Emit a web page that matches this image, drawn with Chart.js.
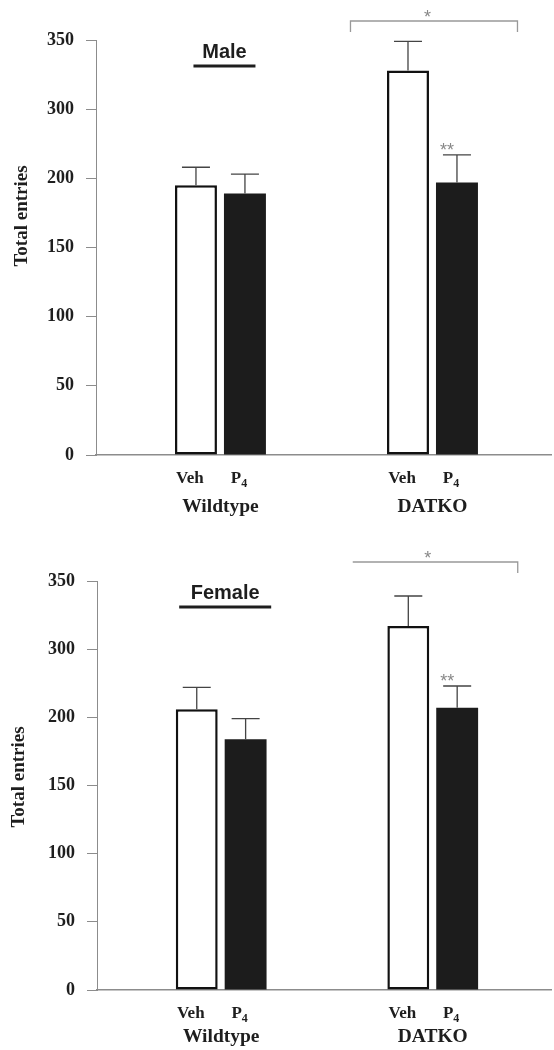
<!DOCTYPE html>
<html>
<head>
<meta charset="utf-8">
<script src="https://cdn.jsdelivr.net/npm/chart.js@4.4.1/dist/chart.umd.min.js"></script>
<style>
  html, body { margin: 0; padding: 0; background: #fff; }
  .panel { position: absolute; left: 0; width: 554px; height: 525px; }
</style>
</head>
<body>
<div class="panel" style="top:0"><canvas id="chart-male" width="554" height="525"></canvas></div>
<div class="panel" style="top:525px"><canvas id="chart-female" width="554" height="525"></canvas></div>
<script>
const groups = ['Wildtype', 'DATKO'];
const treatments = ['Veh', 'P4'];
// ticks are evenly spaced in the original, but it has no "250" label
const yTickLabels = ['0', '50', '100', '150', '200', '300', '350'];

const maleVeh = [195, 278];
const maleP4 = [189, 197];
const maleVehErr = [13, 21];
const maleP4Err = [14, 20];

const femaleVeh = [206, 267];
const femaleP4 = [184, 207];
const femaleVehErr = [16, 22];
const femaleP4Err = [15, 16];

const serif = '"Liberation Serif", "Times New Roman", serif';
const sans = '"Liberation Sans", Arial, sans-serif';
const axisGrey = '#8c8c8c';
const ink = '#1e1e1e';

function drawLabel(ctx, text, cx, baseline, size) {
  // "P4" is written with a subscript 4
  const m = text.match(/^(.*?)(\d+)$/);
  ctx.textAlign = 'left';
  ctx.textBaseline = 'alphabetic';
  if (!m) {
    ctx.font = 'bold ' + size + 'px ' + serif;
    const w = ctx.measureText(text).width;
    ctx.fillText(text, cx - w / 2, baseline);
    return;
  }
  ctx.font = 'bold ' + size + 'px ' + serif;
  const w1 = ctx.measureText(m[1]).width;
  ctx.font = 'bold ' + Math.round(size * 0.72) + 'px ' + serif;
  const w2 = ctx.measureText(m[2]).width;
  const left = cx - (w1 + w2) / 2;
  ctx.font = 'bold ' + size + 'px ' + serif;
  ctx.fillText(m[1], left, baseline);
  ctx.font = 'bold ' + Math.round(size * 0.72) + 'px ' + serif;
  ctx.fillText(m[2], left + w1, baseline + 4);
}

const annotations = {
  id: 'annotations',
  afterDatasetsDraw(chart, args, o) {
    const ctx = chart.ctx;
    const xs = chart.scales.x, ys = chart.scales.y;
    const area = chart.chartArea;
    ctx.save();

    // error bars (upper half only)
    chart.data.datasets.forEach((ds, d) => {
      chart.getDatasetMeta(d).data.forEach((bar, i) => {
        const yTop = ys.getPixelForValue(ds.data[i].y + ds.errors[i]);
        ctx.strokeStyle = '#444';
        ctx.lineWidth = 1.3;
        ctx.beginPath();
        ctx.moveTo(bar.x, bar.y);
        ctx.lineTo(bar.x, yTop);
        ctx.moveTo(bar.x - 14, yTop);
        ctx.lineTo(bar.x + 14, yTop);
        ctx.stroke();
      });
    });

    // labels under the bars and the groups
    ctx.fillStyle = ink;
    chart.data.datasets.forEach((ds, d) => {
      chart.getDatasetMeta(d).data.forEach(bar => {
        drawLabel(ctx, treatments[d], bar.x - 6, area.bottom + 28, 17);
      });
    });
    groups.forEach((g, i) => {
      drawLabel(ctx, g, xs.getPixelForValue(i + 1), area.bottom + o.groupDy, 19.5);
    });

    // y title
    ctx.save();
    ctx.translate(o.titleX, o.titleY);
    ctx.rotate(-Math.PI / 2);
    ctx.font = 'bold 19px ' + serif;
    ctx.textAlign = 'center';
    ctx.textBaseline = 'middle';
    ctx.fillText('Total entries', 0, 0);
    ctx.restore();

    // sex label with underline
    const gx = xs.getPixelForValue(1) + 4;
    ctx.font = 'bold 20px ' + sans;
    ctx.textAlign = 'center';
    ctx.textBaseline = 'alphabetic';
    ctx.fillText(o.sex, gx, o.sexY);
    ctx.strokeStyle = ink;
    ctx.lineWidth = 3;
    ctx.beginPath();
    ctx.moveTo(gx - o.lineW / 2, o.sexY + 8);
    ctx.lineTo(gx + o.lineW / 2, o.sexY + 8);
    ctx.stroke();

    // significance bracket over DATKO
    const dx = xs.getPixelForValue(2);
    ctx.strokeStyle = '#999';
    ctx.lineWidth = 1.3;
    ctx.beginPath();
    if (o.leftDrop) {
      ctx.moveTo(dx - 82, o.bracketY + 11);
      ctx.lineTo(dx - 82, o.bracketY);
    } else {
      ctx.moveTo(dx - 80, o.bracketY);
    }
    ctx.lineTo(dx + 85, o.bracketY);
    ctx.lineTo(dx + 85, o.bracketY + 11);
    ctx.stroke();
    ctx.fillStyle = '#888';
    ctx.font = '18px ' + sans;
    ctx.fillText('*', dx - 5, o.bracketY + 2);

    // ** over DATKO P4
    const p4 = chart.getDatasetMeta(1).data[1];
    const p4Top = ys.getPixelForValue(chart.data.datasets[1].data[1].y + chart.data.datasets[1].errors[1]);
    ctx.fillText('**', p4.x - 10, p4Top + 1);

    ctx.restore();
  }
};

function makePanel(id, cfg) {
  const ctx = document.getElementById(id).getContext('2d');
  return new Chart(ctx, {
    type: 'bar',
    data: {
      datasets: [
        {
          label: treatments[0],
          data: groups.map((g, i) => ({ x: i + 1, y: cfg.veh[i] })),
          errors: cfg.vehErr,
          backgroundColor: '#ffffff',
          borderColor: '#111',
          borderWidth: 2.5,
          borderSkipped: false
        },
        {
          label: treatments[1],
          data: groups.map((g, i) => ({ x: i + 1, y: cfg.p4[i] })),
          errors: cfg.p4Err,
          backgroundColor: '#1c1c1c',
          borderWidth: 0
        }
      ]
    },
    options: {
      responsive: false,
      animation: false,
      events: [],
      categoryPercentage: 0.462,
      barPercentage: 0.857,
      layout: { padding: { top: cfg.top, right: 3, left: 0, bottom: 0 } },
      plugins: {
        legend: { display: false },
        tooltip: { enabled: false },
        annotations: cfg.notes
      },
      scales: {
        x: {
          type: 'linear',
          offset: false,
          min: 0.413,
          max: 2.559,
          ticks: { display: false, stepSize: 1, includeBounds: false },
          grid: { display: true, offset: false, drawOnChartArea: false, drawTicks: false },
          border: { display: true, color: axisGrey, width: 1.5 },
          afterFit: s => { s.height = 525 - cfg.bottom; }
        },
        y: {
          min: 0,
          max: 300,
          ticks: {
            stepSize: 50,
            padding: 12,
            color: ink,
            font: { family: serif, size: 18, weight: 'bold' },
            callback: (v, i) => yTickLabels[i]
          },
          grid: { drawOnChartArea: false, tickLength: 10, color: axisGrey },
          border: { color: axisGrey },
          afterFit: s => { s.width = cfg.left; }
        }
      }
    },
    plugins: [annotations]
  });
}

makePanel('chart-male', {
  veh: maleVeh, p4: maleP4, vehErr: maleVehErr, p4Err: maleP4Err,
  top: 40, bottom: 455, left: 96,
  notes: { sex: 'Male', sexY: 58, lineW: 62, titleX: 22.5, titleY: 216, bracketY: 21, leftDrop: true, groupDy: 57 }
});

makePanel('chart-female', {
  veh: femaleVeh, p4: femaleP4, vehErr: femaleVehErr, p4Err: femaleP4Err,
  top: 56, bottom: 465, left: 97,
  notes: { sex: 'Female', sexY: 74, lineW: 92, titleX: 19, titleY: 252, bracketY: 37, leftDrop: false, groupDy: 52 }
});
</script>
</body>
</html>
